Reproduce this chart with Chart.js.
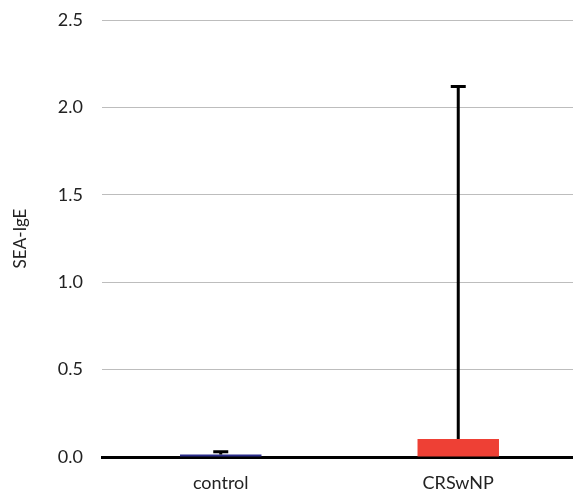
<!DOCTYPE html>
<html>
<head>
<meta charset="utf-8">
<script src="https://cdn.jsdelivr.net/npm/chart.js@4"></script>
<style>
    html, body { margin: 0; padding: 0; background: #fff; overflow: hidden; }
    #wrap { width: 577px; height: 492px; }
</style>
</head>
<body>
<div id="wrap"><canvas id="chart"></canvas></div>
<script>
// Data
const groups = ['control', 'CRSwNP'];
const means = [0.015, 0.103];
const upperErrors = [0.03, 2.12];
const barColors = ['#2b2d8c', '#ee4035'];
const yTicks = [0, 0.5, 1.0, 1.5, 2.0, 2.5];

// Draw the upper error bars through the library's scales
const errorBars = {
    id: 'errorBars',
    afterDatasetsDraw(chart) {
        const { ctx, scales: { x, y } } = chart;
        ctx.save();
        ctx.strokeStyle = '#000';
        ctx.lineWidth = 3;
        groups.forEach((g, i) => {
            const px = x.getPixelForValue(i);
            const yBase = y.getPixelForValue(means[i]);
            const yTop = y.getPixelForValue(upperErrors[i]);
            ctx.beginPath();
            ctx.moveTo(px, yBase);
            ctx.lineTo(px, yTop);
            ctx.moveTo(px - 7.5, yTop);
            ctx.lineTo(px + 7.5, yTop);
            ctx.stroke();
        });
        ctx.restore();
    }
};

new Chart(document.getElementById('chart'), {
    type: 'bar',
    data: {
        labels: groups,
        datasets: [{
            data: means,
            backgroundColor: barColors,
            borderWidth: 0,
            barPercentage: 0.343,
            categoryPercentage: 1.0
        }]
    },
    options: {
        responsive: true,
        maintainAspectRatio: false,
        animation: false,
        layout: { padding: { top: 20, right: 0, left: 10, bottom: 0 } },
        plugins: {
            legend: { display: false },
            tooltip: { enabled: false }
        },
        scales: {
            x: {
                afterFit(axis) {
                    axis.height = 35;
                    axis.paddingLeft = 0;
                    axis.paddingRight = 0;
                },
                grid: { display: false, drawTicks: false },
                border: { display: true, color: '#000', width: 3 },
                ticks: {
                    color: '#222',
                    padding: 15,
                    font: { family: 'Lato', size: 18 }
                }
            },
            y: {
                min: 0,
                max: 2.5,
                afterBuildTicks(axis) {
                    axis.ticks = yTicks.map(v => ({ value: v }));
                },
                afterFit(axis) {
                    axis.width = 92;
                    axis.paddingTop = 0;
                    axis.paddingBottom = 0;
                },
                grid: {
                    drawTicks: false,
                    color: ctx => ctx.tick && ctx.tick.value === 0 ? 'rgba(0,0,0,0)' : '#bdbdbd',
                    lineWidth: 1
                },
                border: { display: false },
                ticks: {
                    color: '#222',
                    padding: 19,
                    font: { family: 'Lato', size: 18 },
                    callback: v => v.toFixed(1)
                },
                title: {
                    display: true,
                    text: 'SEA-IgE',
                    color: '#222',
                    font: { family: 'Lato', size: 17 },
                    padding: { top: 0, bottom: 6 }
                }
            }
        }
    },
    plugins: [errorBars]
});
</script>
</body>
</html>
